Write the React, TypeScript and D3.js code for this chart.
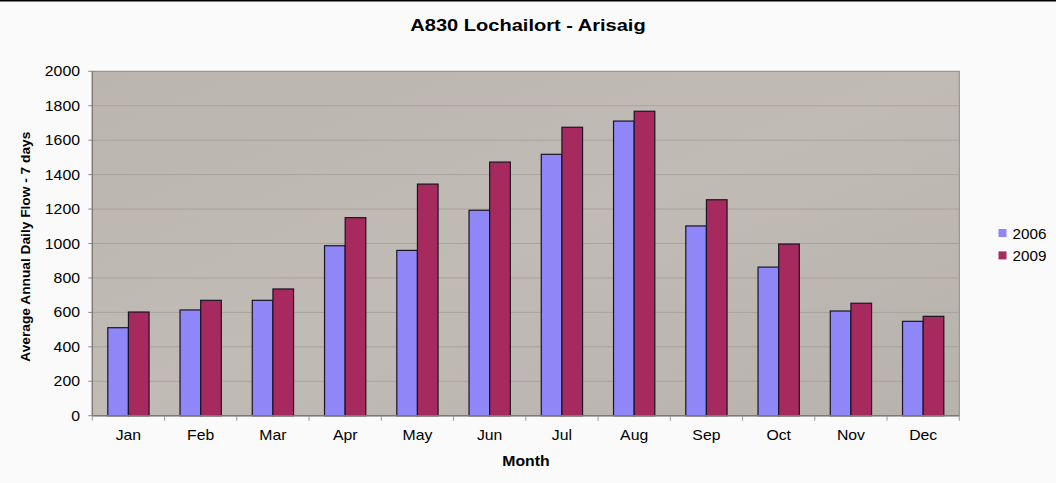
import React from "react";
import * as d3 from "d3";

const months = ["Jan", "Feb", "Mar", "Apr", "May", "Jun", "Jul", "Aug", "Sep", "Oct", "Nov", "Dec"];
const seriesNames = ["2006", "2009"];
const values2006 = [511, 614, 670, 987, 960, 1193, 1518, 1711, 1102, 863, 608, 548];
const values2009 = [602, 670, 736, 1150, 1345, 1473, 1675, 1768, 1254, 997, 653, 577];
const yTicks = [0, 200, 400, 600, 800, 1000, 1200, 1400, 1600, 1800, 2000];
const colors = ["#8f86f7", "#a62a5e"];

const W = 1056;
const H = 483;
const plot = { left: 92.3, right: 959.3, top: 71.3, bottom: 415.7 };
const FONT = "'Liberation Sans', Arial, sans-serif";
const SX = 1.13;

export default function App() {
  const x = d3.scaleBand<string>().domain(months).range([plot.left, plot.right]).paddingInner(0).paddingOuter(0);
  const xi = d3.scaleBand<string>().domain(seriesNames).range([0, x.bandwidth()]).paddingInner(0).paddingOuter(0.75);
  const y = d3.scaleLinear().domain([0, 2000]).range([plot.bottom, plot.top]);
  const series = [values2006, values2009];

  const T = (props: { x: number; y: number; size: number; bold?: boolean; anchor?: string; children: React.ReactNode; sx?: number }) => (
    <text
      transform={`translate(${props.x},${props.y}) scale(${props.sx ?? SX},1)`}
      fontFamily={FONT}
      fontSize={props.size}
      fontWeight={props.bold ? "bold" : "normal"}
      textAnchor={props.anchor ?? "start"}
      fill="#000"
    >
      {props.children}
    </text>
  );

  return (
    <svg width={W} height={H} style={{ position: "absolute", left: 0, top: 0, display: "block" }}>
      <defs>
        <linearGradient id="pbg" x1="0" y1="0" x2="1" y2="1">
          <stop offset="0" stopColor="#bbb5b0" />
          <stop offset="0.5" stopColor="#c1bbb6" />
          <stop offset="1" stopColor="#b8b2ad" />
        </linearGradient>
      </defs>
      <rect x={0} y={0} width={W} height={H} fill="#fafafa" />
      <line x1={0} x2={W} y1={0.75} y2={0.75} stroke="#000" strokeWidth={1.5} />

      <rect x={plot.left} y={plot.top} width={plot.right - plot.left} height={plot.bottom - plot.top} fill="url(#pbg)" stroke="#8a8580" strokeWidth={1} />

      {yTicks.map((t) => (
        <g key={t}>
          {t > 0 && t < 2000 && (
            <line x1={plot.left} x2={plot.right} y1={y(t)} y2={y(t)} stroke="#a8a29c" strokeWidth={1} />
          )}
          <line x1={plot.left - 4} x2={plot.left} y1={y(t)} y2={y(t)} stroke="#888" strokeWidth={1} />
          <T x={80} y={y(t) + 5} size={14} anchor="end">{t}</T>
        </g>
      ))}

      {months.map((m, i) => (
        <g key={m}>
          {series.map((vals, s) => (
            <rect
              key={s}
              x={(x(m) as number) + (xi(seriesNames[s]) as number)}
              y={y(vals[i])}
              width={xi.bandwidth()}
              height={y(0) - y(vals[i])}
              fill={colors[s]}
              stroke="#1a1426"
              strokeWidth={1.2}
            />
          ))}
        </g>
      ))}

      <line x1={plot.left} x2={plot.left} y1={plot.top} y2={plot.bottom} stroke="#7d7873" strokeWidth={1.2} />
      <line x1={plot.left} x2={plot.right} y1={plot.bottom} y2={plot.bottom} stroke="#7d7873" strokeWidth={1.5} />
      {months.concat([""]).map((m, i) => {
        const xx = plot.left + i * x.step();
        return <line key={"t" + i} x1={xx} x2={xx} y1={plot.bottom} y2={plot.bottom + 5} stroke="#999" strokeWidth={1} />;
      })}
      {months.map((m) => (
        <T key={"l" + m} x={(x(m) as number) + x.bandwidth() / 2} y={440} size={14} anchor="middle">{m}</T>
      ))}

      <T x={528} y={31} size={17} bold anchor="middle" sx={1.18}>A830 Lochailort - Arisaig</T>
      <T x={526} y={466} size={14} bold anchor="middle">Month</T>
      <text
        transform={`translate(30,246.7) rotate(-90)`}
        fontFamily={FONT}
        fontSize={13.5}
        fontWeight="bold"
        textAnchor="middle"
        textLength={230}
        lengthAdjust="spacingAndGlyphs"
      >
        Average Annual Daily Flow - 7 days
      </text>

      {seriesNames.map((name, s) => (
        <g key={name}>
          <rect x={998.5} y={229 + s * 22.4} width={8} height={8} fill={colors[s]} />
          <T x={1012.5} y={238.5 + s * 22.4} size={14.5} sx={1.05}>{name}</T>
        </g>
      ))}
    </svg>
  );
}
